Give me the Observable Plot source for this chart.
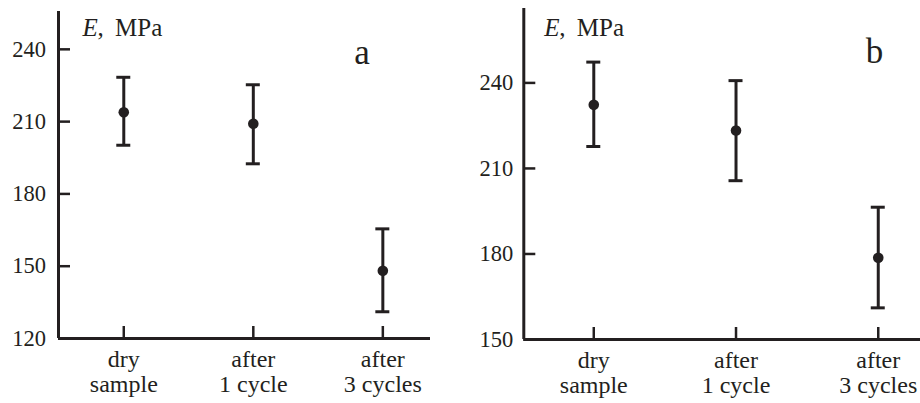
<!DOCTYPE html>
<html><head><meta charset="utf-8">
<script src="https://cdn.jsdelivr.net/npm/d3@7"></script>
<script src="https://cdn.jsdelivr.net/npm/@observablehq/plot@0.6"></script>
<style>
body{margin:0;background:#fff;}
#wrap{position:relative;width:920px;height:403px;overflow:hidden;background:#fff;}
.panel{position:absolute;top:0;}
</style></head><body>
<div id="wrap"><div class="panel" id="pa" style="left:0"></div><div class="panel" id="pb" style="left:460px"></div></div>
<script>
const categories = ["dry\nsample", "after\n1 cycle", "after\n3 cycles"];
const meanA = [213.9, 209.1, 148.1];
const lowA = [200.2, 192.5, 131.1];
const highA = [228.4, 225.3, 165.5];
const meanB = [232.3, 223.3, 178.7];
const lowB = [217.7, 205.7, 161.1];
const highB = [247.3, 240.8, 196.4];
const yTicksA = [120, 150, 180, 210, 240];
const yTicksB = [150, 180, 210, 240];
const panelLetters = ["a", "b"];
const yTitle = ["E", ",", "MPa"];

const INK = "#231f20";
const FONT = "Liberation Serif";

function makePanel(opts) {
  const {mean, low, high, yTicks, letter, xDomain, yDomain, margins, titleDx, titleDy, letterDx, letterDy, yPad} = opts;
  const data = categories.map((c, i) => ({i, c, m: mean[i], lo: low[i], hi: high[i]}));
  const idx = categories.map((c, i) => i);
  const titleStyle = {frameAnchor: "top-left", text: d => d, textAnchor: "start", lineAnchor: "bottom", dy: titleDy, fontSize: 25, fontFamily: FONT, fill: INK};
  return Plot.plot({
    width: 460, height: 403,
    marginLeft: margins[0], marginRight: margins[1], marginTop: margins[2], marginBottom: margins[3],
    x: {domain: xDomain},
    y: {domain: yDomain},
    style: {fontFamily: FONT, fontSize: "22px", color: INK, background: "transparent", overflow: "visible"},
    marks: [
      Plot.axisX({ticks: idx, tickFormat: i => categories[i], tickSize: 0, tickPadding: 10.7, lineHeight: 1.05, label: null, fill: INK, fontSize: 24, fontFamily: FONT}),
      Plot.axisX({ticks: idx, tickFormat: () => "", tickSize: 12, dy: -12, strokeWidth: 2.5, stroke: INK, label: null}),
      Plot.axisY({ticks: yTicks, tickSize: 0, tickPadding: yPad, label: null, fill: INK, fontSize: 22.5, fontFamily: FONT}),
      Plot.axisY({ticks: yTicks, tickFormat: () => "", tickSize: 12, dx: 12, strokeWidth: 2.5, stroke: INK, label: null}),
      Plot.ruleX([xDomain[0]], {stroke: INK, strokeWidth: 3}),
      Plot.ruleY([yDomain[0]], {stroke: INK, strokeWidth: 3}),
      Plot.ruleX(data, {x: "i", y1: "lo", y2: "hi", stroke: INK, strokeWidth: 3}),
      Plot.ruleY(data, {y: "hi", x1: "i", x2: "i", insetLeft: -7, insetRight: -7, stroke: INK, strokeWidth: 3}),
      Plot.ruleY(data, {y: "lo", x1: "i", x2: "i", insetLeft: -7, insetRight: -7, stroke: INK, strokeWidth: 3}),
      Plot.dot(data, {x: "i", y: "m", r: 5.3, fill: INK}),
      Plot.text([yTitle[0]], {...titleStyle, dx: titleDx, fontStyle: "italic"}),
      Plot.text([yTitle[1]], {...titleStyle, dx: titleDx + 15}),
      Plot.text([yTitle[2]], {...titleStyle, dx: titleDx + 32.5}),
      Plot.text([letter], {frameAnchor: "top-right", text: d => d, textAnchor: "middle", lineAnchor: "bottom", dx: letterDx, dy: letterDy, fontSize: 35, fontFamily: FONT, fill: INK})
    ]
  });
}

document.getElementById("pa").append(makePanel({
  mean: meanA, low: lowA, high: highA, yTicks: yTicksA, letter: panelLetters[0],
  xDomain: [-0.504, 2.368], yDomain: [120, 255.7], margins: [58, 30, 11, 65],
  titleDx: 24, titleDy: 24, letterDx: -68.5, letterDy: 52, yPad: 12.5
}));
document.getElementById("pb").append(makePanel({
  mean: meanB, low: lowB, high: highB, yTicks: yTicksB, letter: panelLetters[1],
  xDomain: [-0.492, 2.297], yDomain: [150, 266.1], margins: [63.3, 0, 8, 64],
  titleDx: 20.5, titleDy: 27, letterDx: -46, letterDy: 54, yPad: 10.6
}));
</script>
</body></html>
